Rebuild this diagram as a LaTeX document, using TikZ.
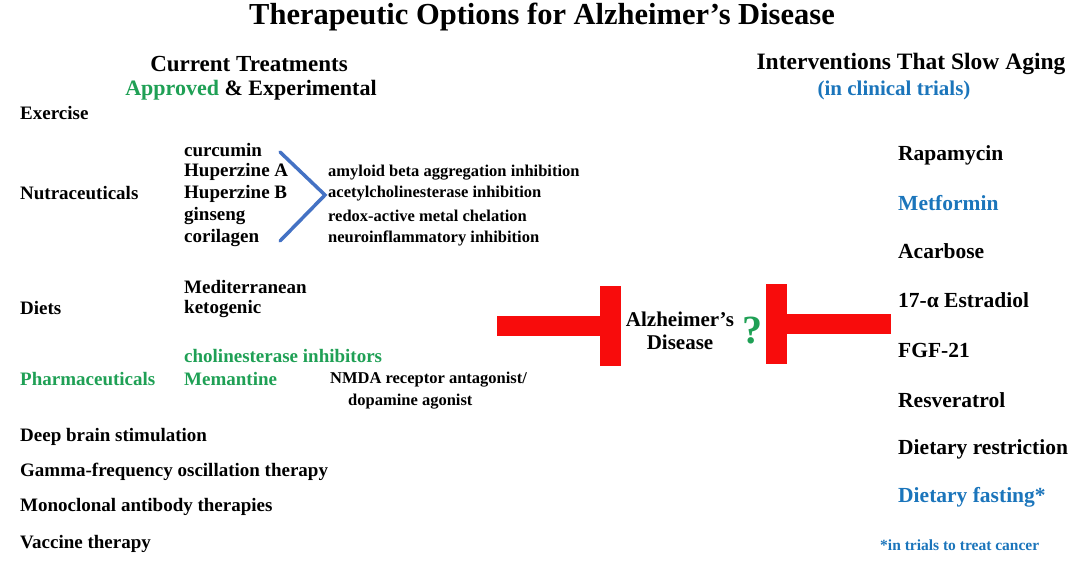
\documentclass[tikz,border=0pt]{standalone}
\usepackage{fontspec}
\setmainfont{Liberation Serif}
\usepackage{xcolor}
\usepackage{tikz}
\usetikzlibrary{arrows.meta}
\definecolor{apprgreen}{HTML}{1FA055}
\definecolor{trialblue}{HTML}{1B75BB}
\definecolor{chevblue}{HTML}{4472C4}
\definecolor{blockred}{HTML}{F80C0C}
\tikzset{
  txt/.style={inner sep=0pt, font=\bfseries\fontsize{#1}{#1}\selectfont},
  lft/.style={txt=19, anchor=west},
  mech/.style={txt=16.5, anchor=west},
  rgt/.style={txt=21.5, anchor=west},
  inhibit/.style={draw=blockred, line width=20pt, -{Rectangle[length=21pt, width=80pt]}},
  chev/.style={draw=chevblue, line width=3.5pt, line cap=round}
}
\begin{document}
\begin{tikzpicture}[x=1pt,y=-1pt]
\useasboundingbox (0,0) rectangle (1084,562);
\node[txt=30.5] (title) at (542,17) {Therapeutic Options for Alzheimer’s Disease};
\node[txt=23] (curhead) at (249,64) {Current Treatments};
\node[txt=22] (apphead) at (251,90) {\textcolor{apprgreen}{Approved} \& Experimental};
\node[txt=23.5] (inthead) at (911,64) {Interventions That Slow Aging};
\node[txt=21, text=trialblue] (trialhead) at (894,90) {(in clinical trials)};

\node[lft] (exercise) at (20,113) {Exercise};
\node[lft] (nutra) at (20,193) {Nutraceuticals};
\node[lft] (diets) at (20,308) {Diets};
\node[lft, text=apprgreen] (pharma) at (20,379) {Pharmaceuticals};
\node[lft] (dbs) at (20,437) {Deep brain stimulation};
\node[lft] (gamma) at (20,472) {Gamma-frequency oscillation therapy};
\node[lft] (mab) at (20,507) {Monoclonal antibody therapies};
\node[lft] (vaccine) at (20,544) {Vaccine therapy};

\node[lft] (curcumin) at (184,150) {curcumin};
\node[lft] (hupa) at (184,172) {Huperzine A};
\node[lft] (hupb) at (184,194) {Huperzine B};
\node[lft] (ginseng) at (184,216) {ginseng};
\node[lft] (corilagen) at (184,238) {corilagen};
\node[lft] (medit) at (184,287) {Mediterranean};
\node[lft] (keto) at (184,309) {ketogenic};
\node[lft, text=apprgreen] (chol) at (184,356) {cholinesterase inhibitors};
\node[lft, text=apprgreen] (meman) at (184,379) {Memantine};

\node[mech] (amyloid) at (328,173) {amyloid beta aggregation inhibition};
\node[mech] (ache) at (328,194) {acetylcholinesterase inhibition};
\node[mech] (redox) at (328,216) {redox-active metal chelation};
\node[mech] (neuro) at (328,238) {neuroinflammatory inhibition};
\node[mech] (nmda) at (330,380) {NMDA receptor antagonist/};
\node[mech] (dopa) at (348,402) {dopamine agonist};

\coordinate (chevtop) at (280,152);
\coordinate (chevtip) at (325,195);
\coordinate (chevbot) at (280,241);
\draw[chev] (chevtop) -- (chevtip) -- (chevbot);

\node[txt=21, align=center, inner sep=5pt] (ad) at (680,331) {Alzheimer’s\\[2pt]Disease};
\node[txt=40, text=apprgreen, inner sep=3pt, anchor=west] (qm) at (ad.east) {?};
\coordinate (lstart) at (497,326);
\coordinate (rstart) at (891,324);
\draw[inhibit] (lstart) -- (lstart -| ad.west);
\draw[inhibit] (rstart) -- (rstart -| qm.east);

\node[rgt] (rapa) at (898,155) {Rapamycin};
\node[rgt, text=trialblue] (metf) at (898,203) {Metformin};
\node[rgt] (acar) at (898,251) {Acarbose};
\node[rgt] (estr) at (898,300) {17-α Estradiol};
\node[rgt] (fgf) at (898,350) {FGF-21};
\node[rgt] (resv) at (898,400) {Resveratrol};
\node[rgt] (dietr) at (898,449) {Dietary restriction};
\node[rgt, text=trialblue] (fast) at (898,497) {Dietary fasting*};
\node[txt=15.5, text=trialblue, anchor=west] (note) at (880,545) {*in trials to treat cancer};
\end{tikzpicture}
\end{document}
